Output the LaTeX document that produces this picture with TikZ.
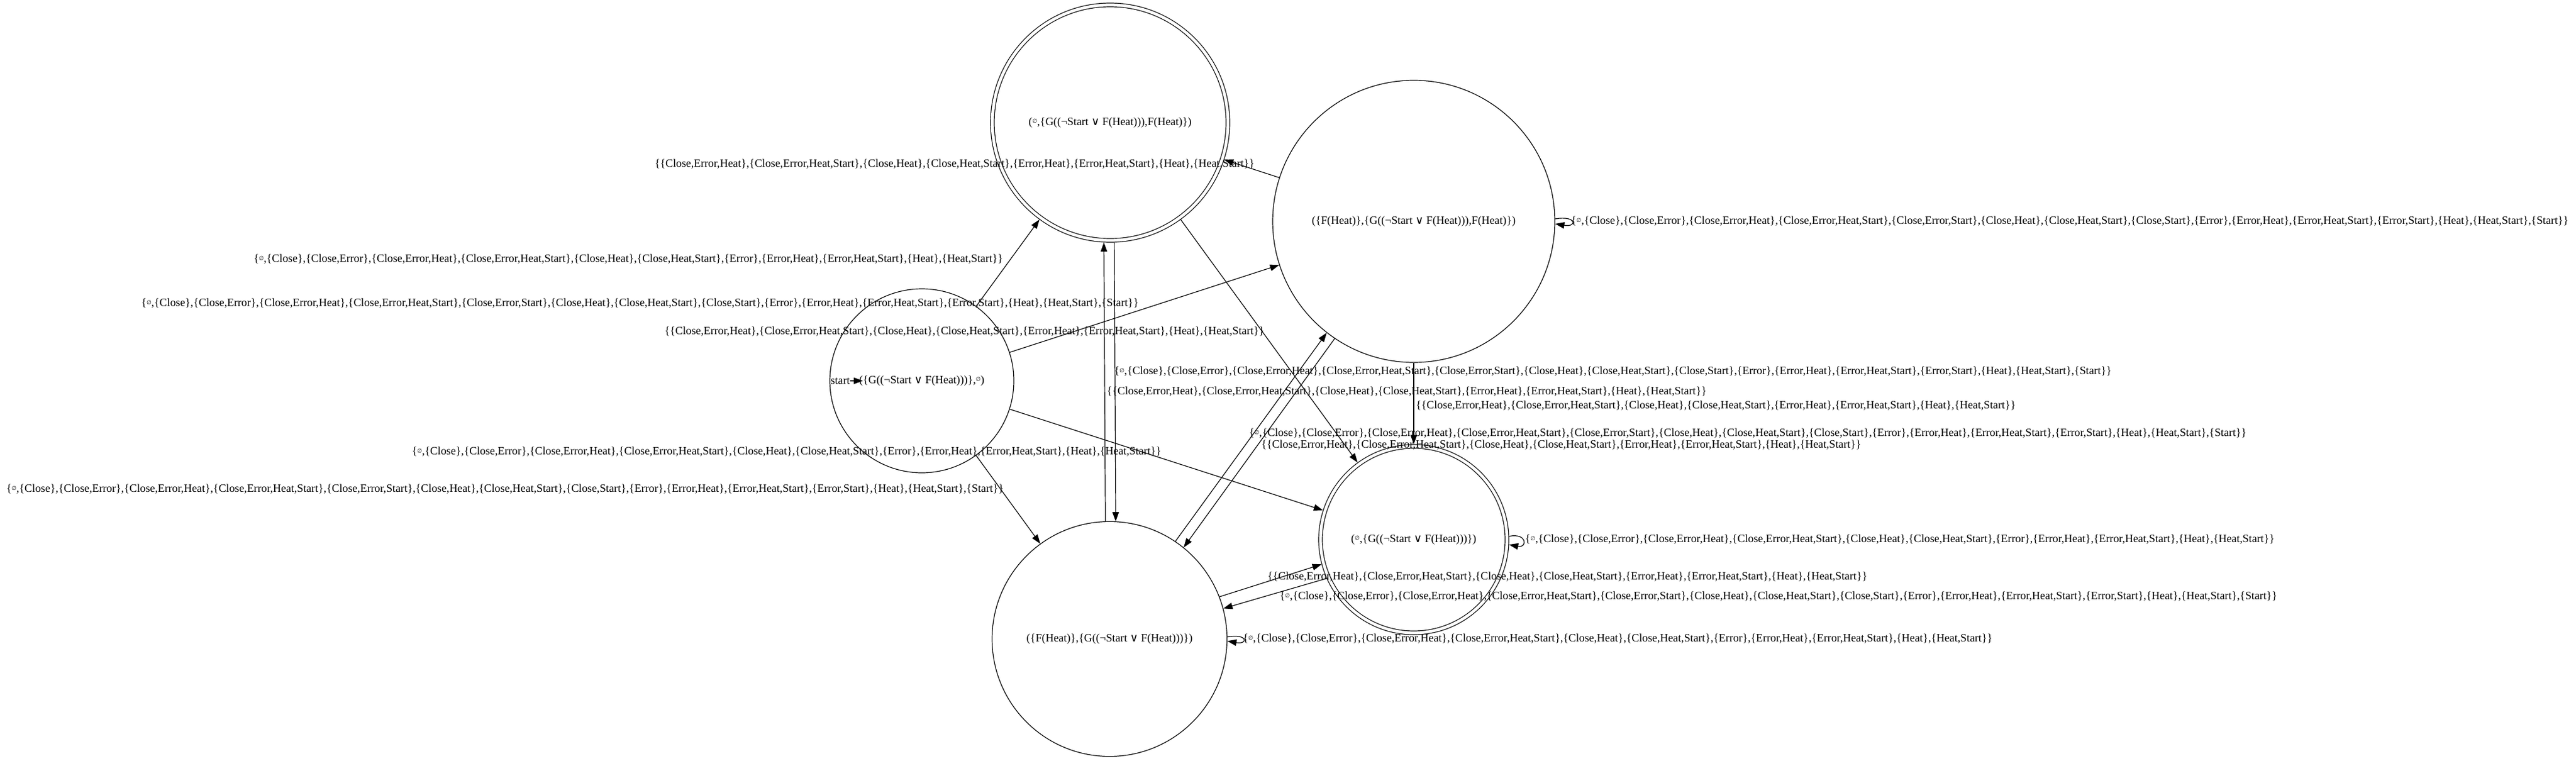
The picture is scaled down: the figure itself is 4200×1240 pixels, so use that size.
\documentclass[tikz,border=0pt]{standalone}
\usepackage{fontspec}
\setmainfont{Liberation Serif}
\newfontfamily\symfont{DejaVu Sans}
\usetikzlibrary{arrows.meta}
\newcommand\myempty{\raisebox{3.5pt}{\symfont\fontsize{9}{9}\selectfont ∅}}
\newcommand\myor{{\symfont ∨}}
\newcommand\Lfull{\{\myempty,\{Close\},\{Close,Error\},\{Close,Error,Heat\},\{Close,Error,Heat,Start\},\{Close,Error,Start\},\{Close,Heat\},\{Close,Heat,Start\},\{Close,Start\},\{Error\},\{Error,Heat\},\{Error,Heat,Start\},\{Error,Start\},\{Heat\},\{Heat,Start\},\{Start\}\}}
\newcommand\Ltwelve{\{\myempty,\{Close\},\{Close,Error\},\{Close,Error,Heat\},\{Close,Error,Heat,Start\},\{Close,Heat\},\{Close,Heat,Start\},\{Error\},\{Error,Heat\},\{Error,Heat,Start\},\{Heat\},\{Heat,Start\}\}}
\newcommand\Leight{\{\{Close,Error,Heat\},\{Close,Error,Heat,Start\},\{Close,Heat\},\{Close,Heat,Start\},\{Error,Heat\},\{Error,Heat,Start\},\{Heat\},\{Heat,Start\}\}}
\begin{document}
\begin{tikzpicture}[x=1pt,y=-1pt,
  font=\fontsize{18.3}{22}\selectfont,
  line width=1.2pt,
  mystate/.style={circle,draw,inner sep=0pt,minimum size=#1},
  acc/.style={circle,draw,double,double distance=4.8pt,inner sep=0pt,outer sep=3.6pt,minimum size=#1},
  arr/.style={-{Triangle[length=15pt,width=10.5pt]}},
  lab/.style={inner sep=0pt}]
\useasboundingbox (0,0) rectangle (4200,1240);

% states
\node[mystate=300pt] (S) at (1503,621) {(\{G((¬Start \myor{} F(Heat)))\},\myempty)};
\node[acc=384pt] (A) at (1810,200) {(\myempty,\{G((¬Start \myor{} F(Heat))),F(Heat)\})};
\node[mystate=460pt] (B) at (2305,361) {(\{F(Heat)\},\{G((¬Start \myor{} F(Heat))),F(Heat)\})};
\node[acc=304pt] (C) at (2305,880) {(\myempty,\{G((¬Start \myor{} F(Heat)))\})};
\node[mystate=383pt] (D) at (1809,1042) {(\{F(Heat)\},\{G((¬Start \myor{} F(Heat)))\})};

% initial marker
\node[lab] (st) at (1370,621) {start};
\coordinate (sttip) at (1407,621);
\draw[arr] (st) -- (sttip);

% edges
\draw[arr] (S) -- (A);
\draw[arr] (S) -- (B);
\draw[arr] (S) -- (C);
\draw[arr] (S) -- (D);
\draw[arr] (D.92.4) -- (A.267.6);
\draw[arr] (A.272.4) -- (D.87.6);
\draw[arr] (B) -- (A);
\draw[arr] (A) -- (C);
\draw[arr] (D.56) -- (B.232);
\draw[arr] (B.236) -- (D.51.5);
\draw[arr] (B.south) -- (C.north);
\draw[arr] (D.21) -- (C.195.5);
\draw[arr] (C.204) -- (D.15);
\draw[arr] (B.1.5) .. controls +(36,-6) and +(36,6) .. (B.-1.5);
\draw[arr] (C.2) .. controls +(30,-6) and +(30,6) .. (C.-3);
\draw[arr] (D.1.8) .. controls +(34,-6) and +(34,6) .. (D.-1.8);

% edge labels
\node[lab,anchor=east] (lSA) at (1636,423) {\Ltwelve};
\node[lab,anchor=east] (lSB) at (1857,495) {\Lfull};
\node[lab,anchor=east] (lAC) at (2062,541) {\Leight};
\node[lab,anchor=east] (lBA) at (2046,268) {\Leight};
\node[lab,anchor=west] (lAD) at (1816,606) {\Lfull};
\node[lab,anchor=west] (lDA) at (1804,639) {\Leight};
\node[lab,anchor=west] (lBC) at (2308,662) {\Leight};
\node[lab,anchor=west] (lDB) at (2036,707) {\Lfull};
\node[lab,anchor=west] (lBD) at (2056,726) {\Leight};
\node[lab,anchor=east] (lSC) at (1894,737) {\Ltwelve};
\node[lab,anchor=east] (lSD) at (1637,798) {\Lfull};
\node[lab,anchor=west] (lDC) at (2066,941) {\Leight};
\node[lab,anchor=west] (lCD) at (2086,973) {\Lfull};
\node[lab,anchor=west] (lBB) at (2561,361) {\Lfull};
\node[lab,anchor=west] (lCC) at (2486,880) {\Ltwelve};
\node[lab,anchor=west] (lDD) at (2026,1042) {\Ltwelve};
\end{tikzpicture}
\end{document}
